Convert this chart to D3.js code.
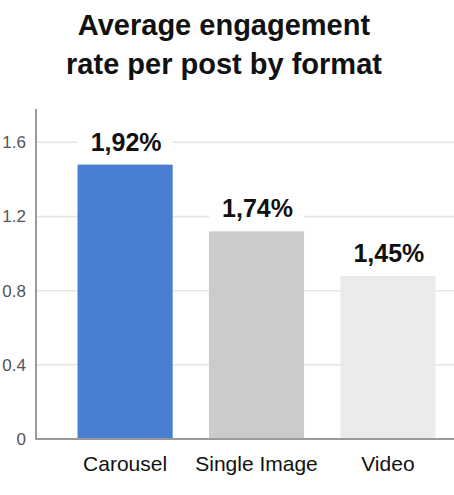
<!DOCTYPE html>
<html>
<head>
<meta charset="utf-8">
<script src="https://cdn.jsdelivr.net/npm/d3@7"></script>
<style>
  html, body { margin: 0; padding: 0; background: #fff; }
  svg { display: block; }
</style>
</head>
<body>
<script>
const categories = ['Carousel', 'Single Image', 'Video'];
const values = [1.48, 1.12, 0.88];
const valueLabels = ['1,92%', '1,74%', '1,45%'];
const barColors = ['#4a7ed0', '#cbcbcb', '#ebebeb'];
const yTicks = [0, 0.4, 0.8, 1.2, 1.6];
const titleLines = ['Average engagement', 'rate per post by format'];

const width = 454;
const height = 495;
const font = '"Liberation Sans", Arial, sans-serif';

const svg = d3.select('body')
    .append('svg')
    .attr('width', width)
    .attr('height', height);

const x = d3.scaleBand()
    .domain(categories)
    .range([36, 477])
    .paddingInner(0.276)
    .paddingOuter(0.316);

const y = d3.scaleLinear()
    .domain([0, 1.78])
    .range([439, 109]);

// title
svg.append('g')
    .selectAll('text')
    .data(titleLines)
    .join('text')
    .attr('x', 224)
    .attr('y', (d, i) => 35 + i * 39)
    .attr('text-anchor', 'middle')
    .style('font-family', font)
    .style('font-weight', 'bold')
    .style('font-size', '29px')
    .style('fill', '#111')
    .text(d => d);

// gridlines
svg.append('g')
    .selectAll('line')
    .data(yTicks.filter(d => d > 0))
    .join('line')
    .attr('x1', 36)
    .attr('x2', width)
    .attr('y1', d => y(d))
    .attr('y2', d => y(d))
    .attr('stroke', '#e4e4e4')
    .attr('stroke-width', 1.5);

// y axis
const yAxis = svg.append('g')
    .attr('transform', 'translate(36,0)')
    .call(d3.axisLeft(y).tickValues(yTicks).tickSize(0).tickPadding(10).tickFormat(d3.format('')));
yAxis.select('.domain').remove();
yAxis.selectAll('text')
    .style('font-family', font)
    .style('font-size', '17px')
    .style('fill', '#555');

svg.append('line')
    .attr('x1', 36).attr('x2', 36)
    .attr('y1', y.range()[1]).attr('y2', y(0))
    .attr('stroke', '#9a9a9a')
    .attr('stroke-width', 2);

// white patches behind labels
svg.append('g')
    .selectAll('rect')
    .data(categories)
    .join('rect')
    .attr('x', d => x(d))
    .attr('width', x.bandwidth())
    .attr('y', (d, i) => y(values[i]) - 40)
    .attr('height', 40)
    .attr('fill', '#fff');

// bars
svg.append('g')
    .selectAll('rect')
    .data(categories)
    .join('rect')
    .attr('x', d => x(d))
    .attr('width', x.bandwidth())
    .attr('y', (d, i) => y(values[i]))
    .attr('height', (d, i) => y(0) - y(values[i]))
    .attr('fill', (d, i) => barColors[i]);

// value labels
svg.append('g')
    .selectAll('text')
    .data(categories)
    .join('text')
    .attr('x', d => x(d) + x.bandwidth() / 2 + 1)
    .attr('y', (d, i) => y(values[i]) - 14)
    .attr('text-anchor', 'middle')
    .style('font-family', font)
    .style('font-weight', 'bold')
    .style('font-size', '25px')
    .style('fill', '#111')
    .text((d, i) => valueLabels[i]);

// x axis
const xAxis = svg.append('g')
    .attr('transform', `translate(0,${y(0)})`)
    .call(d3.axisBottom(x).tickSize(0).tickPadding(17));
xAxis.select('.domain').remove();
xAxis.selectAll('text')
    .style('font-family', font)
    .style('font-size', '21px')
    .style('fill', '#111');

svg.append('line')
    .attr('x1', 35).attr('x2', width)
    .attr('y1', y(0)).attr('y2', y(0))
    .attr('stroke', '#9a9a9a')
    .attr('stroke-width', 2);
</script>
</body>
</html>
